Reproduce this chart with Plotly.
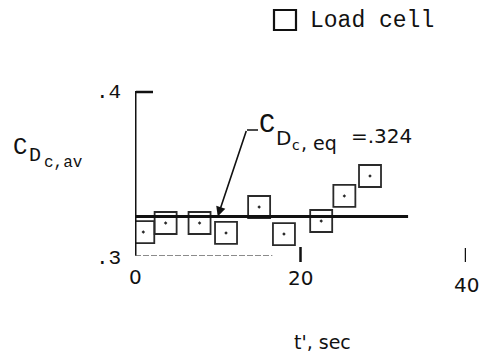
import plotly.graph_objects as go

# Load-cell readings: time t' (sec) vs. averaged drag coefficient
t_sec = [1.0, 3.7, 7.8, 11.0, 15.0, 18.0, 22.5, 25.3, 28.4]
cd_av = [0.3145, 0.3200, 0.3200, 0.3140, 0.3297, 0.3133, 0.3212, 0.3364, 0.3485]

cd_eq = 0.324
eq_span = [0, 33]

x_ticks = [0, 20, 40]
x_tick_labels = ["0", "20", "40"]
y_ticks = [0.3, 0.4]
y_tick_labels = [".3", ".4"]

W, H = 486, 359
L, R, T, B = 135, 20, 91, 103
PW, PH = W - L - R, H - T - B


def px(xp):
    return (xp - L) / PW


def py(yp):
    return (H - B - yp) / PH


MONO = "Liberation Mono, Courier New, monospace"
SANS = "DejaVu Sans, Arial, sans-serif"
INK = "#111"

fig = go.Figure()

fig.add_trace(go.Scatter(
    x=t_sec, y=cd_av, mode="markers",
    marker=dict(symbol="square-open-dot", size=22, color="#2a2a2a",
                line=dict(width=1.8, color="#2a2a2a")),
    showlegend=False, hoverinfo="skip",
))

shapes = []
# vertical axis with its short cap at .4
shapes.append(dict(type="line", xref="x", yref="y", x0=0, x1=0, y0=0.3, y1=0.4,
                   line=dict(color=INK, width=3)))
shapes.append(dict(type="line", xref="paper", yref="paper",
                   x0=px(136), x1=px(153), y0=py(92), y1=py(92),
                   line=dict(color=INK, width=2.5)))
# faint horizontal baseline
shapes.append(dict(type="line", xref="x", yref="y", x0=0, x1=16.6, y0=0.3, y1=0.3,
                   line=dict(color="#666", width=1.6, dash="6px,2px")))
# tick marks at 20 and 40
for xv, (y0p, y1p) in zip(x_ticks[1:], [(247, 262), (248, 262)]):
    shapes.append(dict(type="line", xref="x", yref="paper", x0=xv, x1=xv,
                       y0=py(y1p), y1=py(y0p), line=dict(color=INK, width=2.5)))
# equilibrium level
shapes.append(dict(type="line", xref="x", yref="y", x0=eq_span[0], x1=eq_span[1],
                   y0=cd_eq, y1=cd_eq, line=dict(color=INK, width=3)))
# short leader dash next to the label
shapes.append(dict(type="line", xref="paper", yref="paper",
                   x0=px(247), x1=px(258), y0=py(130), y1=py(130),
                   line=dict(color=INK, width=1.5)))
# legend square
shapes.append(dict(type="rect", xref="paper", yref="paper",
                   x0=px(274), x1=px(296), y0=py(30), y1=py(10),
                   line=dict(color=INK, width=2.2)))

annotations = []


def text_at(xp, yp, txt, family, size, anchor="left"):
    annotations.append(dict(x=px(xp), y=py(yp), xref="paper", yref="paper", text=txt,
                            showarrow=False, font=dict(family=family, size=size, color=INK),
                            xanchor=anchor, yanchor="middle", borderpad=0))


# x tick labels (40 sits a little lower)
for xv, lab, ypos in zip(x_ticks, x_tick_labels, [277, 278, 285]):
    annotations.append(dict(x=xv, y=py(ypos), xref="x", yref="paper", text=lab,
                            showarrow=False, font=dict(family=SANS, size=20, color=INK),
                            xanchor="center", yanchor="middle"))
for yv, lab, ypos in zip(y_ticks, y_tick_labels, [258, 92]):
    text_at(108, ypos, lab, MONO, 21, "center")

# y-axis title  C_{D_{c,av}}
text_at(12, 147, "C", MONO, 24)
text_at(28, 155, "D", MONO, 20)
text_at(43, 163, "c,av", MONO, 16)

# x-axis title
text_at(322, 342, "t', sec", SANS, 19, "center")

# equilibrium label  C_{D_{c,eq}} =.324 and its arrow
text_at(258, 125, "C", MONO, 27)
text_at(275, 138, "D", SANS, 20)
text_at(291, 145, "c", SANS, 14)
text_at(300, 143, ", eq", SANS, 19)
text_at(350, 136, ("=%.3f" % cd_eq).replace("=0.", "=."), SANS, 20)
annotations.append(dict(x=10.0, y=cd_eq, xref="x", yref="y", text="",
                        showarrow=True, arrowhead=2, arrowsize=1.2, arrowwidth=1.6,
                        arrowcolor=INK, ax=29, ay=-87))

# legend text
text_at(309, 21, "Load cell", MONO, 23)

fig.update_layout(
    width=W, height=H,
    margin=dict(l=L, r=R, t=T, b=B),
    paper_bgcolor="white", plot_bgcolor="white",
    xaxis=dict(range=[0, 40], visible=False, fixedrange=True),
    yaxis=dict(range=[0.3, 0.4], visible=False, fixedrange=True),
    shapes=shapes, annotations=annotations,
)

fig.write_html("out.html")
